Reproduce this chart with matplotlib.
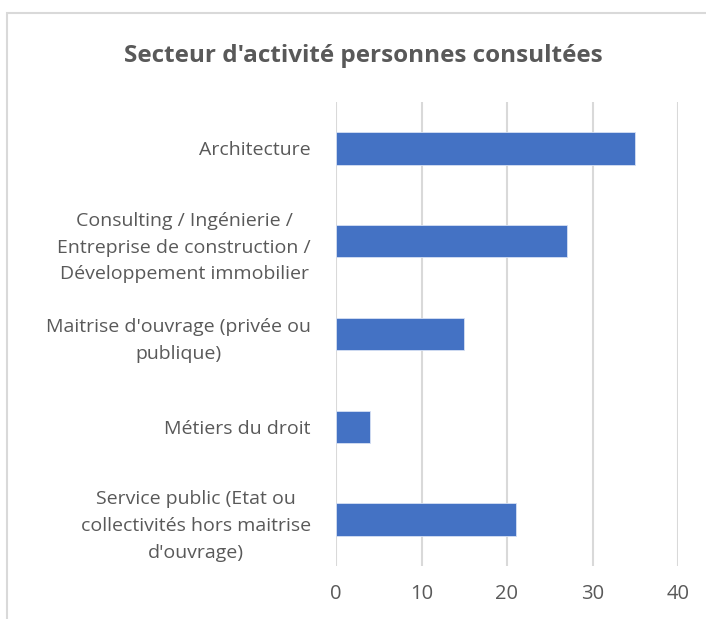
import matplotlib.pyplot as plt
from matplotlib.patches import Rectangle
import numpy as np

# donnees
secteurs = ["Architecture",
            "Consulting / Ingénierie /\nEntreprise de construction /\nDéveloppement immobilier",
            "Maitrise d'ouvrage (privée ou\npublique)",
            "Métiers du droit",
            "Service public (Etat ou\ncollectivités hors maitrise\nd'ouvrage)"]
nombres = [35, 27, 15, 4, 21]
graduations = [0, 10, 20, 30, 40]

gris = "#595959"
plt.rcParams['font.family'] = ['Open Sans', 'DejaVu Sans']

fig = plt.figure(figsize=(7.06, 6.19), dpi=100)
ax = fig.add_axes([336/706, 1-566/619, (678-336)/706, (566-102)/619])

y = np.arange(len(secteurs))
ax.barh(y, nombres, height=0.35, color="#4472C4", edgecolor="#D6E0F3", linewidth=0.6, zorder=3)
ax.set_ylim(len(secteurs)-0.5, -0.5)
ax.set_xlim(0, 40)
ax.set_xticks(graduations)
ax.set_yticks(y)
ax.set_yticklabels(secteurs, fontsize=14, color=gris, multialignment="center", linespacing=1.62)
ax.tick_params(axis="x", labelsize=14.5, labelcolor=gris, length=0, pad=13)
ax.tick_params(axis="y", length=0, pad=18)
ax.grid(axis="x", color="#D9D9D9", linewidth=1.5, zorder=0)
for s in ax.spines.values():
    s.set_visible(False)

# titre
fig.text(363/706, 1-56/619, "Secteur d'activité personnes consultées",
         ha="center", va="center", fontsize=17.5, fontweight="bold", color=gris)

# cadre du graphique
fig.patches.append(Rectangle((7/706, -0.1), 1.0, 1-13/619+0.1, transform=fig.transFigure,
                             fill=False, edgecolor="#D9D9D9", linewidth=1.5))

fig.savefig("out.png", dpi=100)
